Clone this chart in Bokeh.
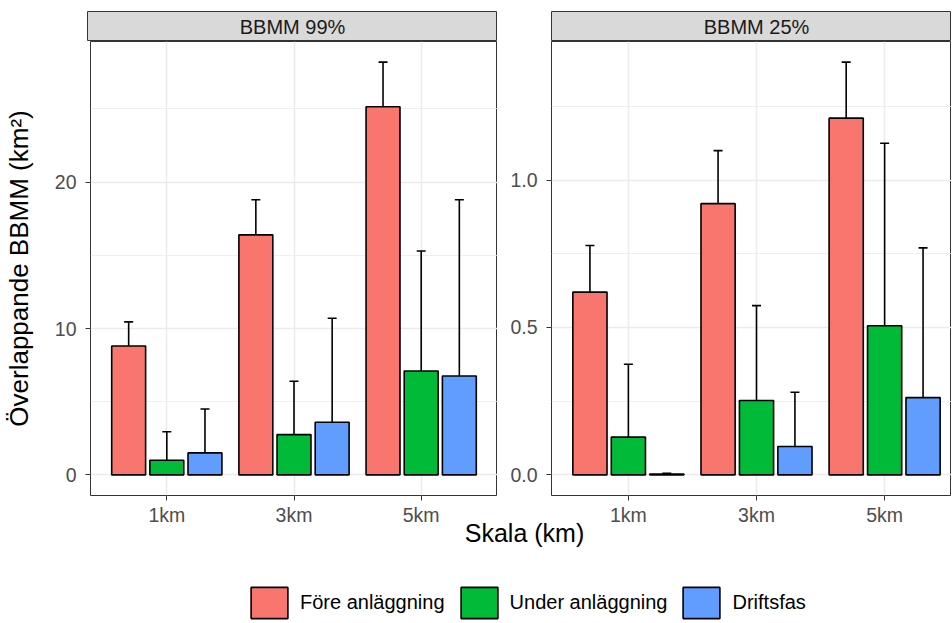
from bokeh.plotting import figure
from bokeh.models import (ColumnDataSource, Range1d, FixedTicker, Label, Legend,
                          LegendItem, NumeralTickFormatter)
from bokeh.layouts import column, row
from bokeh.transform import dodge
from bokeh.embed import file_html
from bokeh.resources import INLINE

# ---------------- data ----------------
categories = ["1km", "3km", "5km"]
phases = ["Före anläggning", "Under anläggning", "Driftsfas"]
colors = ["#F8766D", "#00BA38", "#619CFF"]
panel_titles = ["BBMM 99%", "BBMM 25%"]

bbmm99_fore = [8.8, 16.4, 25.15]
bbmm99_fore_upper = [10.45, 18.8, 28.2]
bbmm99_under = [1.0, 2.75, 7.1]
bbmm99_under_upper = [2.95, 6.4, 15.3]
bbmm99_drift = [1.5, 3.6, 6.75]
bbmm99_drift_upper = [4.5, 10.7, 18.8]

bbmm25_fore = [0.62, 0.92, 1.21]
bbmm25_fore_upper = [0.778, 1.10, 1.40]
bbmm25_under = [0.128, 0.252, 0.506]
bbmm25_under_upper = [0.375, 0.574, 1.125]
bbmm25_drift = [0.003, 0.096, 0.262]
bbmm25_drift_upper = [0.005, 0.28, 0.77]

y_ticks_99 = [0, 10, 20]
y_minor_99 = [5, 15, 25]
y_ticks_25 = [0.0, 0.5, 1.0]
y_minor_25 = [0.25, 0.75, 1.25]

x_title = "Skala (km)"
y_title = "Överlappande BBMM (km²)"

# ---------------- layout constants ----------------
FONT = "Liberation Sans"
TOTAL_W = 951
TOTAL_H = 623
LEFT_BORDER = 87
FRAME_W = 410
GAP_BORDER = 54
RIGHT_FRAME_W = TOTAL_W - LEFT_BORDER - FRAME_W - GAP_BORDER
STRIP_TOP = 11
STRIP_H = 30
FRAME_H = 454
BOTTOM_BORDER = 36
OVERLAP = 14
BOTTOM_H = TOTAL_H - (STRIP_TOP + STRIP_H) - (FRAME_H + BOTTOM_BORDER) + OVERLAP

n = len(categories)
x_start = 1 - 0.6
x_full_end = n + 0.6
units_per_px = (x_full_end - x_start) / FRAME_W
offsets = [-0.3, 0.0, 0.3]
BAR_W = 0.8 / 3


def make_panel(vals, uppers, frame_w, border_left, ticks, minor, fmt, ylabel=None):
    data = dict(x=list(range(1, n + 1)), cat=categories)
    for i in range(3):
        data[f"v{i}"] = vals[i]
        data[f"u{i}"] = uppers[i]
    src = ColumnDataSource(data)
    ymax = max(max(u) for u in uppers)
    p = figure(width=border_left + frame_w, height=FRAME_H + BOTTOM_BORDER,
               x_range=Range1d(x_start, x_start + frame_w * units_per_px),
               y_range=Range1d(-0.05 * ymax, 1.05 * ymax),
               output_backend="svg", toolbar_location=None, title=None,
               min_border_left=border_left, min_border_right=0,
               min_border_top=0, min_border_bottom=BOTTOM_BORDER)
    p.outline_line_color = "#333333"
    p.outline_line_width = 1
    p.background_fill_color = "white"
    for i in range(3):
        p.vbar(x=dodge("x", offsets[i]), top=f"v{i}", bottom=0, width=BAR_W,
               source=src, fill_color=colors[i], line_color="black", line_width=1.6)
    for i in range(3):
        p.segment(x0=dodge("x", offsets[i]), y0=f"v{i}", x1=dodge("x", offsets[i]),
                  y1=f"u{i}", source=src, line_color="black", line_width=1.6)
        p.scatter(x=dodge("x", offsets[i]), y=f"u{i}", source=src, marker="dash",
                  size=9, angle=0, line_color="black", line_width=1.6)

    p.xaxis.ticker = FixedTicker(ticks=list(range(1, n + 1)))
    p.xaxis.major_label_overrides = {i + 1: c for i, c in enumerate(categories)}
    p.yaxis.ticker = FixedTicker(ticks=ticks, minor_ticks=minor)
    if fmt:
        p.yaxis.formatter = NumeralTickFormatter(format=fmt)
    for ax in (p.xaxis, p.yaxis):
        ax.axis_line_color = None
        ax.major_tick_line_color = "#333333"
        ax.major_tick_line_width = 1
        ax.major_tick_out = 5
        ax.major_tick_in = 0
        ax.minor_tick_line_color = None
        ax.major_label_text_font = FONT
        ax.major_label_text_font_size = "19.5px"
        ax.major_label_text_color = "#4D4D4D"
    p.xaxis.major_label_standoff = 3
    p.yaxis.major_label_standoff = 9
    if ylabel:
        p.yaxis.axis_label = ylabel
        p.yaxis.axis_label_text_font = FONT
        p.yaxis.axis_label_text_font_size = "26px"
        p.yaxis.axis_label_text_font_style = "normal"
        p.yaxis.axis_label_text_color = "black"
        p.yaxis.axis_label_standoff = 18
    p.xgrid.grid_line_color = "#EBEBEB"
    p.xgrid.grid_line_width = 1.5
    p.ygrid.grid_line_color = "#EBEBEB"
    p.ygrid.grid_line_width = 1.5
    p.ygrid.minor_grid_line_color = "#EBEBEB"
    p.ygrid.minor_grid_line_width = 0.8
    return p


def make_strip(title, frame_w, border_left):
    s = figure(width=border_left + frame_w, height=STRIP_TOP + STRIP_H,
               x_range=Range1d(0, frame_w), y_range=Range1d(0, 1),
               x_axis_type=None, y_axis_type=None, output_backend="svg",
               toolbar_location=None, title=None,
               min_border_left=border_left, min_border_right=0,
               min_border_top=STRIP_TOP, min_border_bottom=0)
    s.background_fill_color = "#D9D9D9"
    s.outline_line_color = "#333333"
    s.outline_line_width = 1
    s.add_layout(Label(x=FRAME_W / 2, y=0.5, text=title, text_align="center",
                       text_baseline="middle", text_font=FONT,
                       text_font_size="20px", text_color="#1A1A1A"))
    return s


p99 = make_panel([bbmm99_fore, bbmm99_under, bbmm99_drift],
                 [bbmm99_fore_upper, bbmm99_under_upper, bbmm99_drift_upper],
                 FRAME_W, LEFT_BORDER, y_ticks_99, y_minor_99, None, ylabel=y_title)
p25 = make_panel([bbmm25_fore, bbmm25_under, bbmm25_drift],
                 [bbmm25_fore_upper, bbmm25_under_upper, bbmm25_drift_upper],
                 RIGHT_FRAME_W, GAP_BORDER, y_ticks_25, y_minor_25, "0.0")

s99 = make_strip(panel_titles[0], FRAME_W, LEFT_BORDER)
s25 = make_strip(panel_titles[1], RIGHT_FRAME_W, GAP_BORDER)

# bottom: x title + legend (transparent, slightly overlapping the tick-label area)
b = figure(width=TOTAL_W, height=BOTTOM_H, x_range=Range1d(0, TOTAL_W),
           y_range=Range1d(0, BOTTOM_H), x_axis_type=None, y_axis_type=None,
           output_backend="svg", toolbar_location=None, title=None, min_border=0,
           margin=(-OVERLAP, 0, 0, 0))
b.outline_line_color = None
b.border_fill_alpha = 0
b.background_fill_alpha = 0
b.add_layout(Label(x=LEFT_BORDER + (2 * FRAME_W + GAP_BORDER) / 2, y=BOTTOM_H - 1,
                   text=x_title, text_align="center", text_baseline="top",
                   text_font=FONT, text_font_size="25px", text_color="black"))
legend_series = [bbmm99_fore, bbmm99_under, bbmm99_drift]
items = []
for ph, c, ser in zip(phases, colors, legend_series):
    r = b.vbar(x=[1], top=[ser[0]], width=1, fill_color=c, line_color="black",
               line_width=1.6, visible=False)
    items.append(LegendItem(label=ph, renderers=[r]))
legend = Legend(items=items, orientation="horizontal", location=(246, 1),
                glyph_width=46, glyph_height=39, label_standoff=8, spacing=11,
                padding=0, margin=0, border_line_color=None, background_fill_alpha=0,
                label_text_font=FONT, label_text_font_size="20px",
                label_text_color="black")
b.add_layout(legend)

layout = column(row(s99, s25), row(p99, p25), b)
open("out.html", "w").write(file_html(layout, INLINE))
